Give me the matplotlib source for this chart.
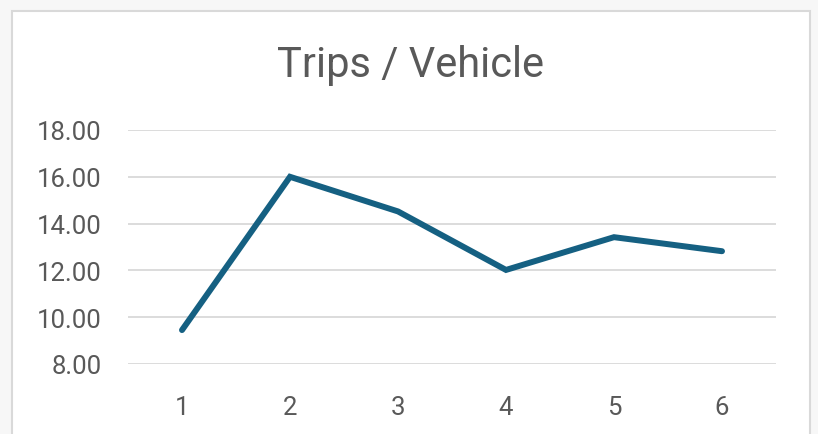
import matplotlib
matplotlib.use("Agg")
import matplotlib.pyplot as plt
from matplotlib.patches import Rectangle

# data
categories = [1, 2, 3, 4, 5, 6]
trips_per_vehicle = [9.45, 16.0, 14.52, 12.02, 13.42, 12.82]
y_ticks = [8, 10, 12, 14, 16, 18]

plt.rcParams['font.family'] = ['Roboto', 'DejaVu Sans']
text_grey = '#595959'

fig = plt.figure(figsize=(8.18, 4.35), dpi=100)
fig.patch.set_facecolor('#f7f7f7')

# chart area box (white, light border)
box = Rectangle((12 / 818, -0.1), (810 - 12) / 818, 1 - 12 / 435 + 0.1,
                transform=fig.transFigure, facecolor='white',
                edgecolor='#d9d9d9', linewidth=1.5, zorder=-1)
fig.patches.append(box)

ax = fig.add_axes([128 / 818, 1 - 365 / 435, (776 - 128) / 818, (365 - 131) / 435])
ax.set_facecolor('none')
ax.set_zorder(2)

ax.plot(categories, trips_per_vehicle, color='#156082', linewidth=4.3,
        solid_capstyle='round', solid_joinstyle='miter', zorder=3)

ax.set_xlim(0.5, 6.5)
ax.set_ylim(8, 18)
ax.set_xticks(categories)
ax.set_yticks(y_ticks)
ax.set_yticklabels([f'{t:.2f}' for t in y_ticks])
ax.tick_params(axis='both', length=0, labelsize=18.5, colors=text_grey)
ax.tick_params(axis='y', pad=19)
ax.tick_params(axis='x', pad=22)

ax.grid(axis='y', color='#d9d9d9', linewidth=1.3)
ax.set_axisbelow(True)
for s in ax.spines.values():
    s.set_visible(False)

fig.text(411 / 818, 1 - 66 / 435, 'Trips / Vehicle', ha='center', va='center',
         fontsize=30, color=text_grey, zorder=3)

fig.savefig('out.png', dpi=100, facecolor=fig.get_facecolor())
